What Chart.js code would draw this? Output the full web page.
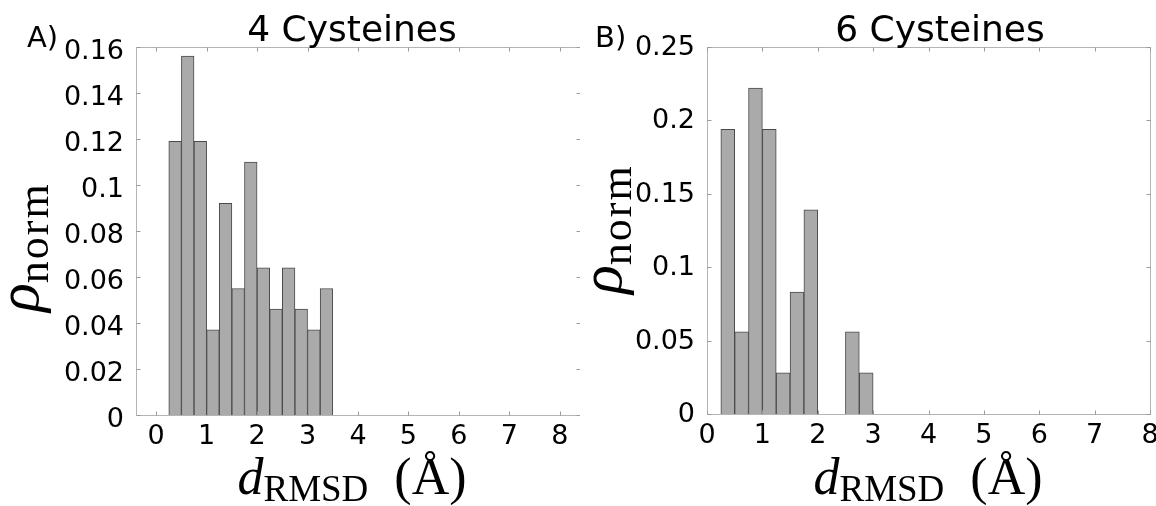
<!DOCTYPE html>
<html>
<head>
<meta charset="utf-8">
<script src="https://cdn.jsdelivr.net/npm/chart.js@4.4.1/dist/chart.umd.min.js"></script>
<style>
  html, body { margin: 0; padding: 0; background: #ffffff; }
  body { width: 1156px; height: 506px; position: relative; overflow: hidden; }
  canvas { position: absolute; top: 0; }
  #c1 { left: 0px; }
  #c2 { left: 580px; }
</style>
</head>
<body>
<canvas id="c1" width="580" height="506"></canvas>
<canvas id="c2" width="576" height="506"></canvas>
<script>
// ---- data ----
const binWidth = 0.25;
const bins4 = [0.25, 0.5, 0.75, 1.0, 1.25, 1.5, 1.75, 2.0, 2.25, 2.5, 2.75, 3.0, 3.25]; // bin left edges
const rho4  = [0.119, 0.156, 0.119, 0.037, 0.092, 0.055, 0.110, 0.064, 0.046, 0.064, 0.046, 0.037, 0.055];
const bins6 = [0.25, 0.5, 0.75, 1.0, 1.25, 1.5, 1.75, 2.5, 2.75];
const rho6  = [0.194, 0.056, 0.222, 0.194, 0.028, 0.083, 0.139, 0.056, 0.028];
const xTicks = [0, 1, 2, 3, 4, 5, 6, 7, 8];
const yTicks4 = [0, 0.02, 0.04, 0.06, 0.08, 0.1, 0.12, 0.14, 0.16];
const yTicks6 = [0, 0.05, 0.1, 0.15, 0.2, 0.25];
const titles = ['4 Cysteines', '6 Cysteines'];
const panelLetters = ['A)', 'B)'];

const SANS = '"DejaVu Sans", sans-serif';
const SERIF = '"Liberation Serif", "DejaVu Serif", serif';

function drawParts(ctx, parts, x, y) {
  let cx = x;
  for (const p of parts) {
    ctx.font = p.font;
    ctx.letterSpacing = p.ls || '0px';
    ctx.fillText(p.text, cx, y + (p.dy || 0));
    cx += ctx.measureText(p.text).width;
  }
  ctx.letterSpacing = '0px';
}
function partsWidth(ctx, parts) {
  let w = 0;
  for (const p of parts) {
    ctx.font = p.font;
    ctx.letterSpacing = p.ls || '0px';
    w += ctx.measureText(p.text).width;
  }
  ctx.letterSpacing = '0px';
  return w;
}

function makePanel(canvasId, bins, values, xmin, xmax, ymax, yTicks, layoutCfg, textCfg) {
  const points = bins.map((b, i) => ({ x: b + binWidth / 2, y: values[i] }));
  const frame = {
    id: 'frame',
    afterDatasetsDraw(chart) {
      const { ctx, chartArea: a, scales } = chart;
      ctx.save();
      ctx.strokeStyle = '#b4b4b4';
      ctx.lineWidth = 1;
      ctx.beginPath();
      const L = Math.round(a.left) + 0.5, R = Math.round(a.right) + 0.5;
      const T = Math.round(a.top) + 0.5, B = Math.round(a.bottom) + 0.5;
      ctx.rect(L, T, R - L, B - T);
      ctx.stroke();
      ctx.strokeStyle = '#9a9a9a';
      ctx.beginPath();
      for (const t of xTicks) {
        const px = Math.round(scales.x.getPixelForValue(t)) + 0.5;
        ctx.moveTo(px, B); ctx.lineTo(px, B - 4);
        ctx.moveTo(px, T); ctx.lineTo(px, T + 4);
      }
      for (const t of yTicks) {
        const py = Math.round(scales.y.getPixelForValue(t)) + 0.5;
        ctx.moveTo(L, py); ctx.lineTo(L + 4, py);
        ctx.moveTo(R, py); ctx.lineTo(R - 4, py);
      }
      ctx.stroke();
      ctx.restore();
    },
    afterDraw(chart) {
      const ctx = chart.ctx;
      ctx.save();
      ctx.fillStyle = '#000000';
      ctx.textBaseline = 'alphabetic';
      // panel letter
      ctx.font = '29px ' + SANS;
      ctx.textAlign = 'left';
      ctx.fillText(textCfg.letter, textCfg.letterX, 47);
      // title
      ctx.font = '36px ' + SANS;
      ctx.textAlign = 'center';
      ctx.fillText(textCfg.title, textCfg.titleX, 41);
      ctx.textAlign = 'left';
      // x label
      const xparts = [
        { text: 'd', font: 'italic 52px ' + SERIF },
        { text: 'RMSD', font: '37px ' + SERIF, dy: 7 },
        { text: '  (Å)', font: '52px ' + SERIF }
      ];
      const w = partsWidth(ctx, xparts);
      drawParts(ctx, xparts, textCfg.xlabelX - w / 2, 494);
      // y label (rotated)
      ctx.save();
      ctx.translate(textCfg.ylabelX, textCfg.ylabelY);
      ctx.rotate(-Math.PI / 2);
      drawParts(ctx, [
        { text: 'ρ', font: 'italic 60px ' + SERIF },
        { text: 'norm', font: '44px ' + SERIF, dy: 10, ls: '2px' }
      ], 0, 0);
      ctx.restore();
      ctx.restore();
    }
  };

  return new Chart(document.getElementById(canvasId), {
    type: 'bar',
    data: {
      datasets: [{
        data: points,
        backgroundColor: '#aaaaaa',
        borderColor: '#4a4a4a',
        borderWidth: 1,
        borderSkipped: 'bottom',
        barPercentage: 1.0,
        categoryPercentage: 1.0,
        grouped: false
      }]
    },
    options: {
      responsive: false,
      animation: false,
      events: [],
      layout: { padding: { left: 0, top: layoutCfg.top, right: layoutCfg.right, bottom: 0 } },
      plugins: { legend: { display: false }, tooltip: { enabled: false }, title: { display: false } },
      scales: {
        x: {
          type: 'linear',
          min: xmin, max: xmax,
          offset: false,
          grid: { display: false },
          border: { display: false },
          afterBuildTicks: (s) => { s.ticks = xTicks.map(v => ({ value: v })); },
          ticks: {
            color: '#000000',
            font: { family: SANS, size: 27 },
            padding: -2,
            maxRotation: 0,
            autoSkip: false,
            callback: (v) => String(v)
          },
          afterFit: (s) => { s.height = layoutCfg.xAxisH; s.paddingLeft = 0; s.paddingRight = 0; }
        },
        y: {
          min: 0, max: ymax,
          grid: { display: false },
          border: { display: false },
          afterBuildTicks: (s) => { s.ticks = yTicks.map(v => ({ value: v })); },
          ticks: {
            color: '#000000',
            font: { family: SANS, size: 27 },
            padding: 4,
            autoSkip: false,
            labelOffset: layoutCfg.yLabelOffset,
            callback: (v) => String(+Number(v).toFixed(4))
          },
          afterFit: (s) => { s.width = layoutCfg.yAxisW; s.paddingTop = 0; s.paddingBottom = 0; }
        }
      }
    },
    plugins: [frame]
  });
}

makePanel('c1', bins4, rho4, -0.4, 8.4, 0.16, yTicks4,
  { top: 47, right: 0, xAxisH: 506 - 415, yAxisW: 136, yLabelOffset: 5 },
  { letter: panelLetters[0], letterX: 27, title: titles[0], titleX: 352, xlabelX: 352, ylabelX: 38, ylabelY: 312 });

makePanel('c2', bins6, rho6, 0, 8, 0.25, yTicks6,
  { top: 47, right: 6, xAxisH: 506 - 414, yAxisW: 127, yLabelOffset: 1 },
  { letter: panelLetters[1], letterX: 15, title: titles[1], titleX: 360, xlabelX: 348, ylabelX: 41, ylabelY: 294 });
</script>
</body>
</html>
